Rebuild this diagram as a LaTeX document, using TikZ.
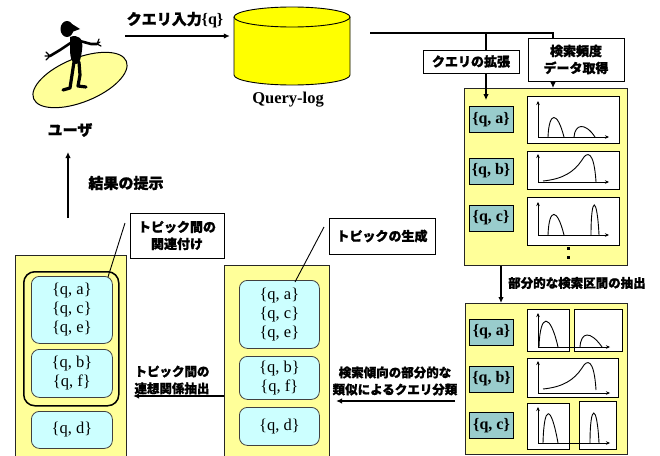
\documentclass[tikz,border=0pt]{standalone}
\usepackage{fontspec}
\setmainfont{Liberation Serif}
\newfontfamily\jp{Noto Sans CJK JP}[BoldFeatures={FakeBold=1.2}]
\usetikzlibrary{arrows.meta}
\definecolor{panelyellow}{HTML}{FFFF99}
\definecolor{logyellow}{HTML}{FFFF00}
\definecolor{itemblue}{HTML}{99CCCC}
\definecolor{topiccyan}{HTML}{CCFFFF}
\begin{document}
\begin{tikzpicture}[x=1pt,y=-1pt,
  jpL/.style={font=\jp\bfseries\fontsize{15}{18}\selectfont},
  jpM/.style={font=\jp\bfseries\fontsize{13}{17}\selectfont},
  jpS/.style={font=\jp\bfseries\fontsize{12.5}{17}\selectfont},
  labelbox/.style={draw, fill=white, line width=0.9pt, inner sep=0pt, align=center},
  panel/.style={draw=black!85, fill=panelyellow, line width=1.1pt, anchor=north west, inner sep=0pt},
  item/.style={draw, fill=itemblue, line width=0.8pt, minimum width=44pt, minimum height=26pt, inner sep=0pt, font=\bfseries\fontsize{16}{18}\selectfont},
  topic/.style={draw=black!75, fill=topiccyan, line width=0.8pt, rounded corners=8pt, inner sep=0pt, align=center, anchor=north west, font=\fontsize{16.5}{19}\selectfont},
  graph/.style={draw, fill=white, line width=0.8pt, anchor=north west, inner sep=0pt},
  axis/.style={line width=0.8pt, -{Stealth[length=4pt,width=3.5pt]}},
  curve/.style={line width=0.9pt},
  arr/.style={line width=1.6pt, -{Latex[length=6pt,width=5.5pt]}},
  link/.style={line width=1.6pt},
  pointer/.style={line width=0.9pt},
  limb/.style={line width=2.6pt, line cap=round, line join=round}
]
\useasboundingbox (0,0) rectangle (660,455);

% ---------- user on a disc ----------
\draw[fill=panelyellow, line width=1pt, rotate around={22:(80,80)}] (80,80) ellipse [x radius=50pt, y radius=22pt];
\fill (67,29) ellipse [x radius=6.5pt, y radius=8pt];
\fill (72,24) -- (80,29) -- (72,32) -- cycle;
\fill (70,37) .. controls (78,34) and (84,38) .. (82,50) .. controls (81,58) and (80,64) .. (76,64) .. controls (71,64) and (70,55) .. (70,48) -- cycle;
\draw[limb] (80,41) -- (91,44) -- (97,44);
\draw[line width=1.2pt, line cap=round] (97,44) -- (99,39) (97,44) -- (101,46) (97,44) -- (100,42);
\draw[limb] (72,42) -- (60,50) -- (50,56);
\draw[line width=1.2pt, line cap=round] (50,56) -- (46,52) (50,56) -- (46,60) (50,56) -- (45,56);
\draw[limb, line width=3.2pt] (74,62) -- (72,75) -- (70,88) -- (63,90);
\draw[limb, line width=3.2pt] (79,62) -- (80,75) -- (78,86) -- (86,87);
\node[jpL] (user) at (70,130) {ユーザ};

% ---------- query log ----------
\node[minimum width=116pt, minimum height=78pt, inner sep=0pt] (log) at (292,46) {};
\fill[logyellow] (234,17) -- (234,75) arc[start angle=180, end angle=360, x radius=58pt, y radius=10pt] -- (350,17) -- cycle;
\draw[line width=0.9pt] (234,17) -- (234,75) arc[start angle=180, end angle=360, x radius=58pt, y radius=10pt] -- (350,17);
\draw[line width=0.9pt, fill=logyellow] (292,17) ellipse [x radius=58pt, y radius=10pt];
\node[font=\bfseries\fontsize{16.5}{19}\selectfont] (loglabel) at (288,100) {Query-log};

\coordinate (uq) at (125,36);
\draw[arr, shorten >=4pt] (uq) -- (log.west |- uq);
\node[jpL] (qin) at (175,20) {クエリ入力{\rmfamily\bfseries\fontsize{16}{18}\selectfont\{q\}}};

% ---------- expansion and frequency retrieval ----------
\node[labelbox, jpM, minimum width=96pt, minimum height=23pt] (expand) at (471,61.5) {クエリの拡張};
\node[labelbox, jpM, minimum width=96pt, minimum height=43pt] (freq) at (576,59.5) {検索頻度\\データ取得};

\node[panel, minimum width=163pt, minimum height=177pt] (p1) at (464,88) {};
\node[item] (ia1) at (491,119.5) {\{q, a\}};
\node[item] (ib1) at (491,171) {\{q, b\}};
\node[item] (ic1) at (491,218) {\{q, c\}};
\node[graph, minimum width=92pt, minimum height=47pt] (g1a) at (527,96) {};
\node[graph, minimum width=92pt, minimum height=38pt] (g1b) at (527,151) {};
\node[graph, minimum width=92pt, minimum height=48pt] (g1c) at (527,197) {};
\fill (566.5,246.5) rectangle (569.5,249.5);
\fill (566.5,255.5) rectangle (569.5,258.5);

% graph a
\draw[axis] (538,137) -- (538,101);
\draw[axis] (538,137) -- (609,137);
\draw[curve] (548,137) .. controls (549,112) and (557,110) .. (564,137);
\draw[curve] (574,137) .. controls (575,124) and (585,122) .. (595,137);
% graph b
\draw[axis] (538,182) -- (538,154);
\draw[axis] (538,182) -- (609,182);
\draw[curve] (543,181) .. controls (563,179) and (574,172) .. (582,160) .. controls (587,151) and (594,150) .. (596,182);
% graph c
\draw[axis] (538,235) -- (538,202);
\draw[axis] (538,235) -- (609,235);
\draw[curve] (548,235) .. controls (549,208) and (557,207) .. (564,235);
\draw[curve] (591,235) .. controls (591,195) and (597,195) .. (599,235);

\coordinate (fork) at (370,33);
\coordinate (xe) at (486,0);
\coordinate (xf) at (553,0);
\draw[link] (fork) -- (fork -| xf) -- (freq.north -| xf);
\draw[link] (fork -| xe) -- (expand.north -| xe);
\draw[arr, shorten >=6pt] (expand.south -| xe) -- (ia1.north -| xe);
\draw[arr] (freq.south -| xf) -- (p1.north -| xf);

% ---------- partial intervals ----------
\node[panel, minimum width=162pt, minimum height=151pt] (p2) at (465,303) {};
\node[item] (ia2) at (491.5,332) {\{q, a\}};
\node[item] (ib2) at (491.5,379) {\{q, b\}};
\node[item] (ic2) at (491.5,425.5) {\{q, c\}};
\node[graph, minimum width=42pt, minimum height=42pt] (g2a1) at (527,309) {};
\node[graph, minimum width=48pt, minimum height=42pt] (g2a2) at (574,309) {};
\node[graph, minimum width=91pt, minimum height=39pt] (g2b) at (527,358) {};
\node[graph, minimum width=42pt, minimum height=46pt] (g2c1) at (527,403) {};
\node[graph, minimum width=37pt, minimum height=48pt] (g2c2) at (579,401) {};

\draw[axis] (538,347) -- (538,313);
\draw[axis] (538,347) -- (610,347);
\draw[curve] (539,347) .. controls (540,313) and (550,312) .. (558,347);
\draw[curve] (580,347) .. controls (581,332) and (590,330) .. (602,347);
\draw[axis] (538,393) -- (538,361);
\draw[axis] (538,393) -- (610,393);
\draw[curve] (543,389) .. controls (563,387) and (574,380) .. (582,368) .. controls (587,359) and (594,358) .. (596,390);
\draw[axis] (538,443) -- (538,407);
\draw[axis] (538,443) -- (610,443);
\draw[curve] (543,443) .. controls (544,404) and (551,404) .. (558,443);
\draw[curve] (590,443) .. controls (590,403) and (597,403) .. (599,443);

\coordinate (xk) at (501,0);
\draw[arr] (p1.south -| xk) -- (p2.north -| xk);
\node[jpS, anchor=west, inner sep=0pt] (ext) at (508,283) {部分的な検索区間の抽出};

% ---------- topic generation ----------
\node[panel, minimum width=105pt, minimum height=195pt] (mid) at (224,265) {};
\node[topic, minimum width=80pt, minimum height=68pt] (ta) at (239,280) {\{q, a\}\\\{q, c\}\\\{q, e\}};
\node[topic, minimum width=80pt, minimum height=43pt] (tb) at (239,356) {\{q, b\}\\\{q, f\}};
\node[topic, minimum width=80pt, minimum height=38pt] (td) at (239,407) {\{q, d\}};
\node[labelbox, jpM, minimum width=106pt, minimum height=36pt] (gen) at (382,236) {トピックの生成};
\coordinate (genp) at (324,227);
\coordinate (genq) at (295,282);
\draw[pointer] (genp) -- (genq);

\coordinate (yc) at (0,401);
\draw[arr, shorten <=10pt, shorten >=6pt] (p2.west |- yc) -- (mid.east |- yc);
\node[jpS, align=center] (cls) at (395,381) {検索傾向の部分的な\\類似によるクエリ分類};

% ---------- relating topics ----------
\node[panel, minimum width=111pt, minimum height=205pt] (left) at (15,255) {};
\node[draw, line width=1.5pt, rounded corners=11pt, fill=panelyellow, anchor=north west, inner sep=0pt, minimum width=95pt, minimum height=134pt] (grp) at (23,271) {};
\node[topic, minimum width=81pt, minimum height=67pt] (la) at (31,276) {\{q, a\}\\\{q, c\}\\\{q, e\}};
\node[topic, minimum width=81pt, minimum height=48pt] (lb) at (31,349) {\{q, b\}\\\{q, f\}};
\node[topic, minimum width=81pt, minimum height=37pt] (ld) at (31,411) {\{q, d\}};
\node[labelbox, jpM, minimum width=94pt, minimum height=45pt] (relate) at (177,235.5) {トピック間の\\関連付け};
\coordinate (relp) at (125,223);
\coordinate (relq) at (108,277);
\draw[pointer] (relp) -- (relq);

\coordinate (yr) at (0,396);
\draw[arr, shorten >=6pt] (mid.west |- yr) -- (left.east |- yr);
\node[jpS, align=center] (assoc) at (172,380) {トピック間の\\連想関係抽出};

% ---------- presenting results ----------
\coordinate (res) at (68,218);
\coordinate (usr) at (68,152);
\draw[arr] (res) -- (usr);
\node[jpL] (show) at (126,183) {結果の提示};

\end{tikzpicture}
\end{document}
